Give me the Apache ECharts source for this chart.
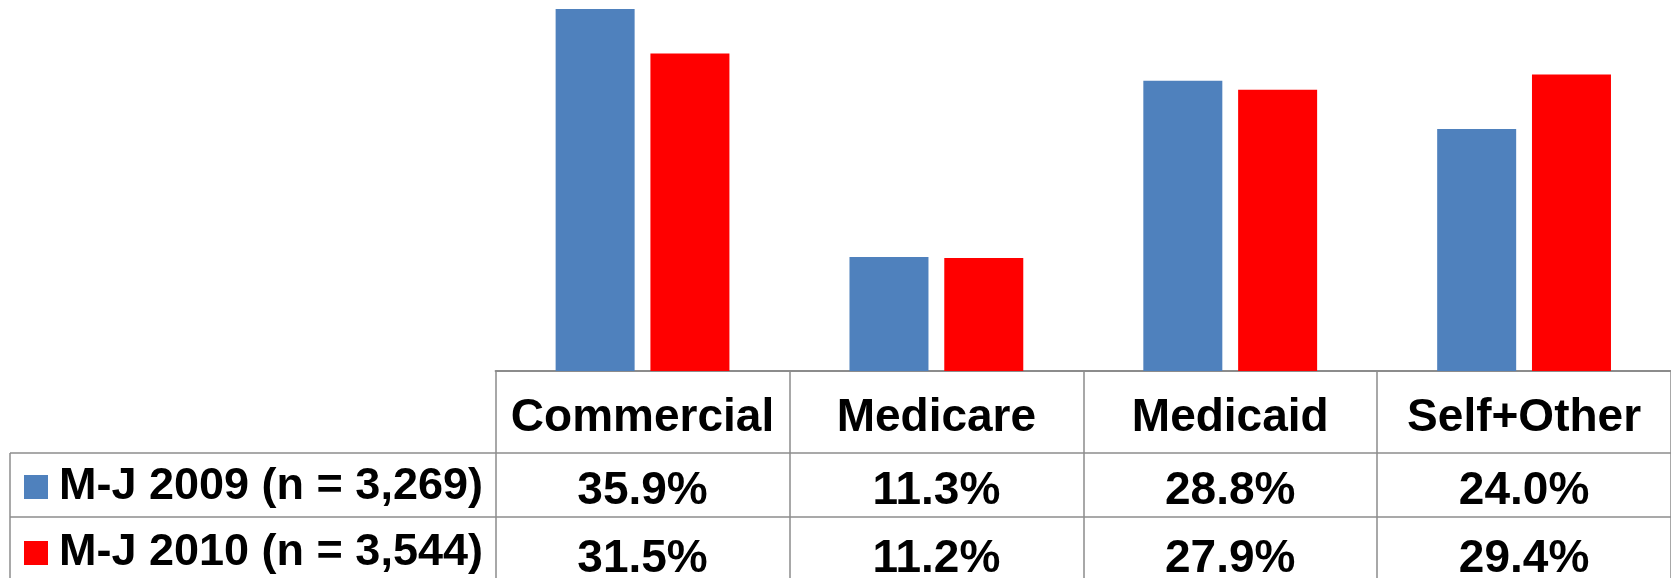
<!DOCTYPE html>
<html>
<head>
<meta charset="utf-8">
<script src="https://cdn.jsdelivr.net/npm/echarts@6/dist/echarts.min.js"></script>
<style>
  html, body { margin: 0; padding: 0; background: #fff; }
  #chart { width: 1671px; height: 578px; }
</style>
</head>
<body>
<div id="chart"></div>
<script>
// data
const categories = ['Commercial', 'Medicare', 'Medicaid', 'Self+Other'];
const seriesNames = ['M-J 2009 (n = 3,269)', 'M-J 2010 (n = 3,544)'];
const values2009 = [35.9, 11.3, 28.8, 24.0];
const values2010 = [31.5, 11.2, 27.9, 29.4];
const colors = ['#4F81BD', '#FF0000'];

const FONT = "'Liberation Sans', Arial, sans-serif";
const LINE = '#8c8c8c';
const FS = 46;
const pct = v => v.toFixed(1) + '%';

// table rows under the plot are just extra category axes with offsets
const rowAxis = (vals, offset) => ({
  type: 'category',
  gridIndex: 0,
  position: 'bottom',
  offset: offset,
  data: vals.map(pct),
  axisLine: { show: false },
  axisTick: { show: false },
  axisLabel: {
    interval: 0, margin: 0, verticalAlign: 'middle',
    fontFamily: FONT, fontWeight: 'bold', fontSize: FS, lineHeight: FS, color: '#000'
  }
});

const chart = echarts.init(document.getElementById('chart'));

const option = {
  animation: false,
  color: colors,
  grid: { left: 495.6, right: 0, top: 0, bottom: 207, containLabel: false, outerBoundsMode: 'none' },
  legend: {
    orient: 'vertical',
    left: 24,
    top: 464,
    padding: 0,
    itemWidth: 24,
    itemHeight: 24,
    itemGap: 20,
    icon: 'rect',
    selectedMode: false,
    textStyle: {
      fontFamily: FONT, fontWeight: 'bold', fontSize: 45, lineHeight: FS,
      color: '#000', padding: [0, 0, 0, 6]
    },
    data: seriesNames
  },
  xAxis: [
    {
      type: 'category',
      data: categories,
      axisLine: { lineStyle: { color: LINE, width: 2 } },
      axisTick: { show: true, length: 207, lineStyle: { color: LINE, width: 1.5 } },
      axisLabel: {
        interval: 0, margin: 47, verticalAlign: 'middle',
        fontFamily: FONT, fontWeight: 'bold', fontSize: FS, lineHeight: FS, color: '#000'
      }
    },
    rowAxis(values2009, 120),
    rowAxis(values2010, 188)
  ],
  yAxis: {
    type: 'value',
    min: 0,
    max: 36.8,
    show: false
  },
  series: [
    { name: seriesNames[0], type: 'bar', data: values2009, barWidth: 79, barGap: '20%' },
    { name: seriesNames[1], type: 'bar', data: values2010, barWidth: 79, barGap: '20%' }
  ],
  // horizontal row separators + left edge of the row header column
  graphic: [
    { type: 'line', shape: { x1: 10, y1: 453, x2: 1671, y2: 453 }, style: { stroke: LINE, lineWidth: 1.5 } },
    { type: 'line', shape: { x1: 10, y1: 517, x2: 1671, y2: 517 }, style: { stroke: LINE, lineWidth: 1.5 } },
    { type: 'line', shape: { x1: 10, y1: 453, x2: 10, y2: 578 }, style: { stroke: LINE, lineWidth: 1.5 } }
  ]
};

chart.setOption(option);
</script>
</body>
</html>
